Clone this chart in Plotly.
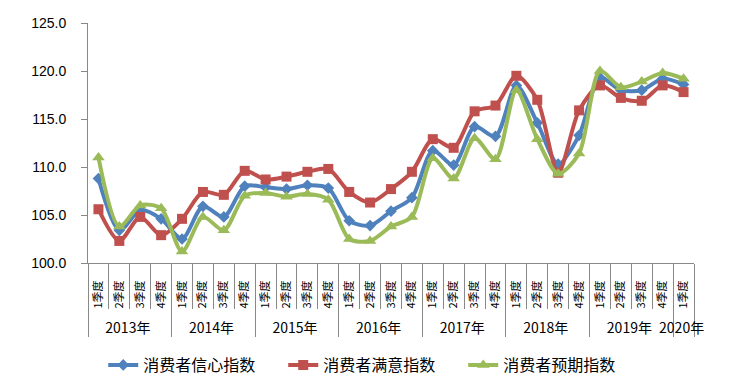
import plotly.graph_objects as go

years = ["2013年", "2014年", "2015年", "2016年", "2017年", "2018年", "2019年", "2020年"]
quarters_per_year = [4, 4, 4, 4, 4, 4, 4, 1]
quarter_names = ["1季度", "2季度", "3季度", "4季度"]

confidence = [108.8, 103.4, 105.5, 104.6, 102.5, 105.9, 104.8, 108.0,
              107.9, 107.7, 108.1, 107.8, 104.4, 103.9, 105.4, 106.8,
              111.7, 110.2, 114.2, 113.2, 118.5, 114.6, 110.3, 113.3,
              119.3, 118.0, 118.0, 119.2, 118.6]
satisfaction = [105.6, 102.3, 104.8, 102.9, 104.6, 107.4, 107.1, 109.6,
                108.7, 109.0, 109.5, 109.8, 107.4, 106.3, 107.7, 109.5,
                112.9, 112.0, 115.8, 116.4, 119.5, 117.0, 109.4, 115.9,
                118.5, 117.2, 116.9, 118.5, 117.8]
expectation = [111.0, 103.8, 106.0, 105.7, 101.2, 104.8, 103.4, 107.0,
               107.3, 106.9, 107.2, 106.6, 102.5, 102.3, 103.8, 104.8,
               110.9, 108.8, 113.0, 110.8, 118.0, 112.9, 109.3, 111.4,
               120.0, 118.3, 118.9, 119.8, 119.2]

series_names = ["消费者信心指数", "消费者满意指数", "消费者预期指数"]
colors = ["#4F81BD", "#C0504D", "#9BBB59"]
symbols = ["diamond", "square", "triangle-up"]
msizes = [9, 10, 11]

x_outer, x_inner = [], []
for y, n in zip(years, quarters_per_year):
    for q in quarter_names[:n]:
        x_outer.append("<span style='font-size:14px'><br>" + y + "</span>")
        x_inner.append(q)
n_points = len(x_inner)

fig = go.Figure()
for name, vals, c, s, ms in zip(series_names, [confidence, satisfaction, expectation], colors, symbols, msizes):
    fig.add_trace(go.Scatter(
        x=[x_outer, x_inner], y=vals, name=name, mode="lines+markers",
        line=dict(color=c, width=4, shape="spline", smoothing=0.8),
        marker=dict(color=c, symbol=s, size=ms),
    ))

fig.update_layout(
    width=729, height=381,
    margin=dict(l=80, r=43, t=15, b=126, autoexpand=False),
    paper_bgcolor="white", plot_bgcolor="white",
    font=dict(family="Noto Sans CJK SC, Liberation Sans, sans-serif", color="#000000"),
    showlegend=True,
    legend=dict(orientation="h", xref="container", yref="container", x=0.501, y=0.063,
                xanchor="center", yanchor="middle", font=dict(size=16),
                itemwidth=30, tracegroupgap=0, entrywidth=135, entrywidthmode="pixels"),
)
fig.update_yaxes(range=[100, 125], dtick=5, tickformat=".1f", showgrid=False,
                 showline=True, linecolor="#888888", linewidth=1,
                 ticks="outside", ticklen=6, tickcolor="#888888", ticklabelstandoff=12,
                 tickfont=dict(size=14, family="Liberation Sans, sans-serif"), zeroline=False,
                 automargin=False)
fig.update_xaxes(type="multicategory", range=[-0.5, n_points - 0.5], autorange=False,
                 showgrid=False, showline=True, linecolor="#888888",
                 linewidth=1, ticks="outside", ticklen=45, tickcolor="#888888",
                 tickson="boundaries", tickangle=-90, showdividers=True,
                 dividercolor="#888888", dividerwidth=1, automargin=False,
                 ticklabelstandoff=12, tickfont=dict(size=11))

fig.write_html("out.html")
